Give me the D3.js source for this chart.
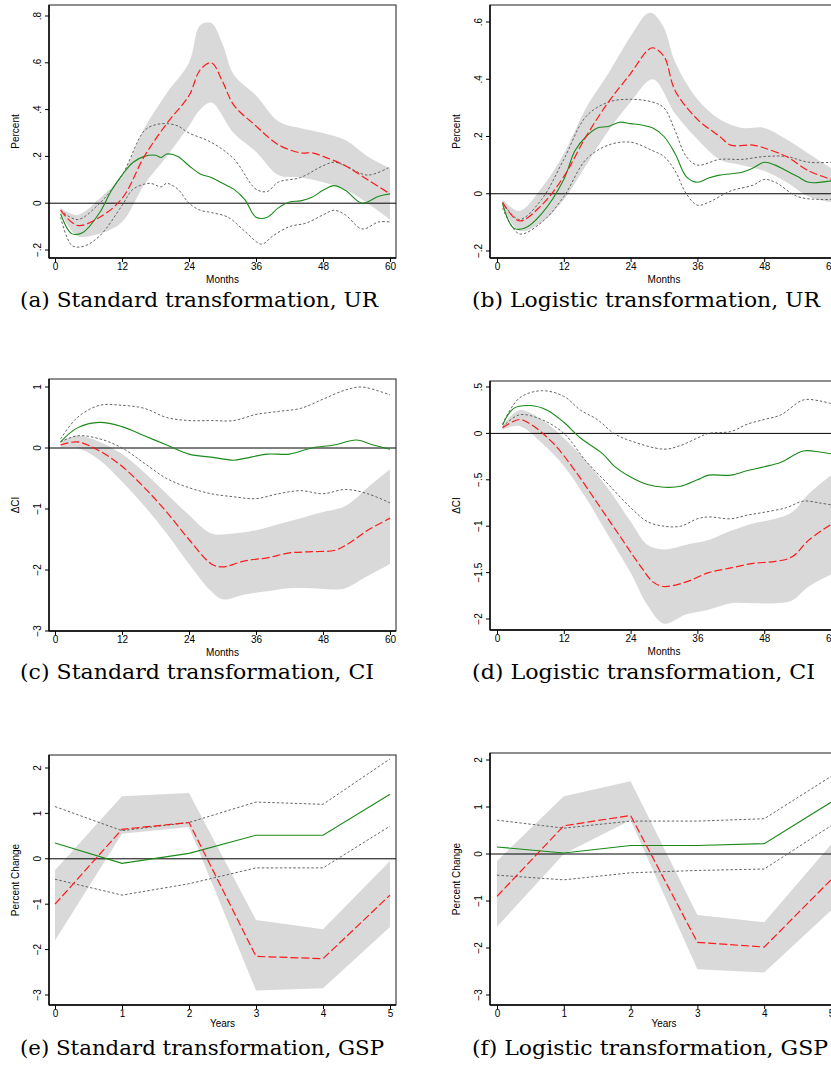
<!DOCTYPE html>
<html><head><meta charset="utf-8">
<script src="https://cdn.jsdelivr.net/npm/d3@7"></script>
<style>body{margin:0;background:#fff}</style></head>
<body><svg id="c" width="831" height="1088"></svg>
<script>
// ---- data: [x, value] pairs ----
const monthTicks=[0,12,24,36,48,60];
const yearTicks=[0,1,2,3,4,5];
// Panel a
const aRed=[[1,-0.03],[4,-0.095],[8,-0.06],[12,0.02],[16,0.2],[20,0.34],[24,0.46],[26,0.57],[28,0.6],[30,0.52],[32,0.42],[36,0.33],[40,0.25],[44,0.215],[46,0.215],[48,0.2],[52,0.16],[56,0.1],[60,0.04]];
const aUp=[[1,-0.02],[4,-0.05],[8,0.02],[12,0.12],[16,0.32],[20,0.47],[24,0.6],[26,0.76],[28,0.77],[30,0.68],[32,0.55],[36,0.46],[40,0.35],[44,0.32],[48,0.3],[52,0.27],[56,0.2],[60,0.15]];
const aLo=[[1,-0.04],[4,-0.14],[8,-0.13],[12,-0.08],[16,0.08],[20,0.2],[24,0.33],[26,0.4],[28,0.43],[32,0.3],[36,0.22],[40,0.12],[44,0.11],[48,0.09],[52,0.06],[56,0.0],[60,-0.07]];
const aGreen=[[1,-0.045],[3,-0.13],[5,-0.125],[8,-0.04],[10,0.05],[12,0.12],[14,0.175],[16,0.2],[18,0.205],[19,0.195],[20,0.21],[22,0.2],[24,0.16],[26,0.125],[28,0.11],[30,0.085],[32,0.06],[34,0.015],[36,-0.06],[38,-0.06],[40,-0.02],[42,0.005],[44,0.01],[46,0.025],[48,0.055],[50,0.075],[52,0.055],[55,0.0],[58,0.03],[60,0.04]];
const aDotUp=[[1,-0.03],[4,-0.07],[8,0.0],[12,0.12],[16,0.31],[18,0.335],[20,0.34],[22,0.33],[24,0.3],[28,0.26],[32,0.19],[36,0.06],[38,0.05],[40,0.09],[44,0.11],[48,0.16],[50,0.175],[52,0.16],[56,0.12],[60,0.155]];
const aDotLo=[[1,-0.06],[3,-0.18],[5,-0.185],[8,-0.14],[12,-0.01],[14,0.06],[17,0.085],[19,0.07],[20,0.085],[22,0.06],[24,0.0],[26,-0.03],[28,-0.04],[31,-0.06],[34,-0.12],[37,-0.175],[39,-0.14],[42,-0.1],[45,-0.085],[48,-0.05],[50,-0.03],[52,-0.05],[55,-0.11],[58,-0.08],[60,-0.08]];
// Panel b
const bRed=[[1,-0.03],[4,-0.095],[8,-0.04],[12,0.06],[16,0.2],[20,0.32],[24,0.42],[27,0.5],[28,0.51],[30,0.48],[32,0.36],[36,0.26],[40,0.2],[42,0.17],[46,0.17],[48,0.16],[52,0.13],[56,0.08],[60,0.05]];
const bUp=[[1,-0.02],[4,-0.06],[8,0.02],[12,0.14],[16,0.3],[20,0.42],[24,0.55],[27,0.63],[28,0.63],[30,0.58],[32,0.46],[36,0.33],[40,0.26],[44,0.23],[48,0.23],[52,0.19],[56,0.14],[60,0.09]];
const bLo=[[1,-0.04],[4,-0.13],[8,-0.1],[12,-0.02],[16,0.1],[20,0.22],[24,0.32],[28,0.4],[32,0.28],[36,0.19],[40,0.12],[44,0.1],[48,0.08],[52,0.04],[56,-0.01],[60,-0.03]];
const bGreen=[[1,-0.035],[3,-0.12],[5,-0.12],[8,-0.07],[12,0.05],[14,0.15],[16,0.2],[18,0.23],[20,0.235],[22,0.25],[24,0.245],[26,0.24],[28,0.23],[30,0.2],[32,0.14],[34,0.06],[36,0.04],[38,0.055],[40,0.065],[44,0.075],[46,0.09],[48,0.11],[50,0.1],[52,0.08],[54,0.06],[56,0.04],[60,0.045]];
const bDotUp=[[1,-0.03],[4,-0.09],[8,-0.02],[12,0.12],[16,0.27],[20,0.32],[24,0.33],[28,0.32],[30,0.3],[32,0.22],[34,0.13],[36,0.1],[40,0.12],[44,0.12],[48,0.13],[52,0.13],[56,0.11],[60,0.11]];
const bDotLo=[[1,-0.05],[4,-0.14],[8,-0.1],[12,-0.01],[16,0.12],[20,0.17],[24,0.18],[28,0.15],[30,0.13],[32,0.08],[34,0.0],[36,-0.04],[38,-0.03],[42,0.01],[46,0.03],[48,0.05],[50,0.04],[54,-0.01],[58,-0.02],[60,-0.02]];
// Panel c
const cRed=[[1,0.05],[4,0.1],[8,-0.05],[12,-0.3],[16,-0.65],[20,-1.05],[24,-1.5],[28,-1.9],[30,-1.95],[34,-1.85],[38,-1.8],[42,-1.72],[46,-1.7],[50,-1.68],[52,-1.6],[56,-1.35],[60,-1.15]];
const cUp=[[1,0.1],[4,0.2],[8,0.1],[12,-0.1],[16,-0.4],[20,-0.75],[24,-1.1],[28,-1.4],[32,-1.4],[36,-1.35],[40,-1.25],[44,-1.15],[48,-1.05],[52,-0.95],[56,-0.65],[60,-0.35]];
const cLo=[[1,0.0],[4,0.0],[8,-0.2],[12,-0.55],[16,-0.95],[20,-1.4],[24,-1.9],[28,-2.35],[30,-2.48],[34,-2.4],[38,-2.35],[42,-2.3],[46,-2.3],[50,-2.32],[52,-2.3],[56,-2.1],[60,-1.9]];
const cGreen=[[1,0.1],[4,0.33],[8,0.42],[12,0.35],[16,0.2],[20,0.05],[24,-0.1],[28,-0.15],[32,-0.2],[34,-0.17],[38,-0.1],[42,-0.1],[46,0.0],[50,0.05],[54,0.13],[57,0.05],[60,-0.02]];
const cDotUp=[[1,0.15],[4,0.5],[8,0.7],[12,0.7],[16,0.65],[20,0.5],[24,0.45],[28,0.45],[32,0.45],[36,0.55],[40,0.6],[44,0.65],[48,0.8],[52,0.95],[55,1.0],[60,0.87]];
const cDotLo=[[1,0.1],[4,0.2],[8,0.15],[12,0.0],[16,-0.25],[20,-0.5],[24,-0.65],[28,-0.75],[32,-0.8],[36,-0.83],[40,-0.75],[44,-0.7],[48,-0.75],[52,-0.68],[56,-0.75],[60,-0.9]];
// Panel d
const dRed=[[1,0.06],[4,0.15],[6,0.1],[10,-0.1],[14,-0.4],[18,-0.75],[22,-1.1],[26,-1.45],[28,-1.6],[30,-1.65],[34,-1.6],[38,-1.5],[42,-1.45],[46,-1.4],[50,-1.38],[53,-1.33],[56,-1.15],[60,-0.98]];
const dUp=[[1,0.08],[4,0.25],[8,0.15],[12,-0.05],[16,-0.3],[20,-0.6],[24,-0.95],[27,-1.2],[30,-1.25],[34,-1.2],[38,-1.15],[42,-1.05],[46,-0.97],[50,-0.92],[53,-0.85],[56,-0.65],[60,-0.45]];
const dLo=[[1,0.04],[4,0.08],[8,-0.1],[12,-0.35],[16,-0.7],[20,-1.1],[24,-1.5],[27,-1.85],[30,-2.05],[34,-1.95],[38,-1.9],[42,-1.83],[46,-1.83],[50,-1.83],[53,-1.8],[56,-1.65],[60,-1.52]];
const dGreen=[[1,0.09],[3,0.27],[6,0.3],[9,0.25],[12,0.12],[15,-0.05],[19,-0.22],[21,-0.35],[24,-0.47],[27,-0.55],[30,-0.58],[33,-0.57],[36,-0.5],[38,-0.45],[42,-0.45],[45,-0.4],[48,-0.36],[51,-0.31],[55,-0.19],[58,-0.2],[60,-0.22]];
const dDotUp=[[1,0.1],[4,0.38],[8,0.46],[12,0.4],[15,0.25],[18,0.15],[21,0.0],[24,-0.08],[30,-0.17],[33,-0.13],[36,-0.05],[38,0.0],[42,0.02],[45,0.1],[48,0.15],[51,0.2],[55,0.36],[58,0.35],[60,0.32]];
const dDotLo=[[1,0.07],[4,0.2],[8,0.15],[12,0.0],[16,-0.3],[20,-0.55],[24,-0.8],[27,-0.95],[30,-1.0],[33,-1.0],[36,-0.92],[38,-0.9],[42,-0.92],[45,-0.88],[48,-0.85],[52,-0.8],[55,-0.73],[58,-0.75],[60,-0.77]];
// Panel e (years)
const eRed=[-1.0,0.65,0.8,-2.15,-2.2,-0.8];
const eUp=[-0.25,1.38,1.45,-1.35,-1.55,-0.05];
const eLo=[-1.8,0.55,0.7,-2.9,-2.85,-1.5];
const eGreen=[0.35,-0.1,0.12,0.52,0.52,1.42];
const eDotUp=[1.15,0.62,0.8,1.25,1.2,2.2];
const eDotLo=[-0.45,-0.8,-0.55,-0.2,-0.2,0.72];
// Panel f
const fRed=[-0.9,0.6,0.82,-1.88,-1.98,-0.55];
const fUp=[-0.15,1.23,1.55,-1.3,-1.45,0.2];
const fLo=[-1.55,0.0,0.72,-2.45,-2.52,-1.2];
const fGreen=[0.15,0.02,0.18,0.18,0.22,1.1];
const fDotUp=[0.72,0.55,0.7,0.7,0.75,1.65];
const fDotLo=[-0.45,-0.55,-0.4,-0.35,-0.32,0.6];

const captions=["(a) Standard transformation, UR","(b) Logistic transformation, UR","(c) Standard transformation, CI","(d) Logistic transformation, CI","(e) Standard transformation, GSP","(f) Logistic transformation, GSP"];
const capWidths=[358,348,354,343,364,356];
const yrs=d3.range(6);
const pair=v=>v.map((y,i)=>[yrs[i],y]);
const dec=d=>d===0?"0":(d<0?"−":"")+(""+Math.abs(d)).replace(/^0\./,".");

const panels=[
 {red:aRed,up:aUp,lo:aLo,green:aGreen,du:aDotUp,dl:aDotLo,xt:monthTicks,xd:[0,60],xlab:"Months",ylab:"Percent",
  yt:[-0.2,0,0.2,0.4,0.6,0.8],yd:[-0.2,0.8],yr:[250,16],col:0,box:[5,258],smooth:true},
 {red:bRed,up:bUp,lo:bLo,green:bGreen,du:bDotUp,dl:bDotLo,xt:monthTicks,xd:[0,60],xlab:"Months",ylab:"Percent",
  yt:[-0.2,0,0.2,0.4,0.6],yd:[-0.2,0.6],yr:[251,22],col:1,box:[5,258],smooth:true},
 {red:cRed,up:cUp,lo:cLo,green:cGreen,du:cDotUp,dl:cDotLo,xt:monthTicks,xd:[0,60],xlab:"Months",ylab:"ΔCI",
  yt:[-3,-2,-1,0,1],yd:[-3,1],yr:[631,387],col:0,box:[379,631],smooth:true},
 {red:dRed,up:dUp,lo:dLo,green:dGreen,du:dDotUp,dl:dDotLo,xt:monthTicks,xd:[0,60],xlab:"Months",ylab:"ΔCI",
  yt:[-2,-1.5,-1,-0.5,0,0.5],yd:[-2,0.5],yr:[619,387],col:1,box:[381,630],smooth:true},
 {red:pair(eRed),up:pair(eUp),lo:pair(eLo),green:pair(eGreen),du:pair(eDotUp),dl:pair(eDotLo),xt:yearTicks,xd:[0,5],xlab:"Years",ylab:"Percent Change",
  yt:[-3,-2,-1,0,1,2],yd:[-3,2],yr:[995,768],col:0,box:[755,1005],smooth:false},
 {red:pair(fRed),up:pair(fUp),lo:pair(fLo),green:pair(fGreen),du:pair(fDotUp),dl:pair(fDotLo),xt:yearTicks,xd:[0,5],xlab:"Years",ylab:"Percent Change",
  yt:[-3,-2,-1,0,1,2],yd:[-3,2],yr:[995,760],col:1,box:[753,1005],smooth:false}
];
const svg=d3.select("#c");
const capY=[307,679,1055];
panels.forEach((p,i)=>{
  const L=p.col===0?49:490, R=p.col===0?396:840;
  const x0=p.col===0?55:497, x1=p.col===0?390:831;
  const x=d3.scaleLinear().domain(p.xd).range([x0,x1]);
  const y=d3.scaleLinear().domain(p.yd).range(p.yr);
  const g=svg.append("g");
  const cp="clip"+i;
  g.append("clipPath").attr("id",cp).append("rect").attr("x",L).attr("y",p.box[0]).attr("width",R-L).attr("height",p.box[1]-p.box[0]);
  g.append("rect").attr("x",L).attr("y",p.box[0]).attr("width",R-L).attr("height",p.box[1]-p.box[0]).attr("fill","none").attr("stroke","#444").attr("stroke-width",1.2);
  const curve=p.smooth?d3.curveCatmullRom:d3.curveLinear;
  const inner=g.append("g").attr("clip-path",`url(#${cp})`);
  const area=d3.line().curve(curve);
  const pathUp=area(p.up.map(d=>[x(d[0]),y(d[1])]));
  const pathLo=area(p.lo.slice().reverse().map(d=>[x(d[0]),y(d[1])]));
  inner.append("path").attr("d",pathUp+"L"+pathLo.slice(1)+"Z").attr("fill","#d9d9d9");
  inner.append("line").attr("x1",L).attr("x2",R).attr("y1",y(0)).attr("y2",y(0)).attr("stroke","#000").attr("stroke-width",1);
  const ln=d3.line().x(d=>x(d[0])).y(d=>y(d[1])).curve(curve);
  [p.du,p.dl].forEach(s=>inner.append("path").attr("d",ln(s)).attr("fill","none").attr("stroke","#555").attr("stroke-width",0.9).attr("stroke-dasharray","2.5,2"));
  inner.append("path").attr("d",ln(p.green)).attr("fill","none").attr("stroke","#1a8a1a").attr("stroke-width",1.1);
  inner.append("path").attr("d",ln(p.red)).attr("fill","none").attr("stroke","#ff1a1a").attr("stroke-width",1.2).attr("stroke-dasharray","8,3");
  const xa=g.append("g").attr("transform",`translate(0,${p.box[1]})`).call(d3.axisBottom(x).tickValues(p.xt).tickFormat(d3.format("d")).tickSize(4).tickSizeOuter(0));
  xa.select(".domain").remove();
  xa.selectAll("text").attr("font-family","Liberation Sans, Arial").attr("font-size",10).attr("y",5).attr("dy","0.71em");
  g.append("line").attr("x1",L).attr("x2",R).attr("y1",p.box[1]).attr("y2",p.box[1]).attr("stroke","#000").attr("stroke-width",1.4);
  const ya=g.append("g").attr("transform",`translate(${L},0)`).call(d3.axisLeft(y).tickValues(p.yt).tickFormat(dec).tickSize(4).tickSizeOuter(0));
  ya.select(".domain").remove();
  ya.selectAll(".tick").attr("transform","translate(0,0)");
  ya.selectAll(".tick line").attr("y1",d=>y(d)).attr("y2",d=>y(d));
  ya.selectAll("text").attr("font-family","Liberation Sans, Arial").attr("font-size",10)
    .attr("text-anchor","middle").attr("x",0).attr("y",0).attr("dy",0)
    .attr("transform",d=>`translate(-8,${y(d)}) rotate(-90)`);
  g.append("line").attr("x1",L).attr("x2",L).attr("y1",p.box[0]).attr("y2",p.box[1]).attr("stroke","#000").attr("stroke-width",1.4);
  g.append("text").attr("x",x((p.xd[0]+p.xd[1])/2)).attr("y",p.box[1]+(p.smooth?25:22)).attr("text-anchor","middle")
    .attr("font-family","Liberation Sans, Arial").attr("font-size",10).text(p.xlab);
  g.append("text").attr("transform",`translate(${L-30},${(p.box[0]+p.box[1])/2}) rotate(-90)`).attr("text-anchor","middle")
    .attr("font-family","Liberation Sans, Arial").attr("font-size",10).text(p.ylab);
  svg.append("text").attr("x",p.col===0?20:472).attr("y",capY[Math.floor(i/2)])
    .attr("font-family","DejaVu Serif, Liberation Serif").attr("font-size",20)
    .attr("textLength",capWidths[i]).attr("lengthAdjust","spacingAndGlyphs").text(captions[i]);
});
</script></body></html>
